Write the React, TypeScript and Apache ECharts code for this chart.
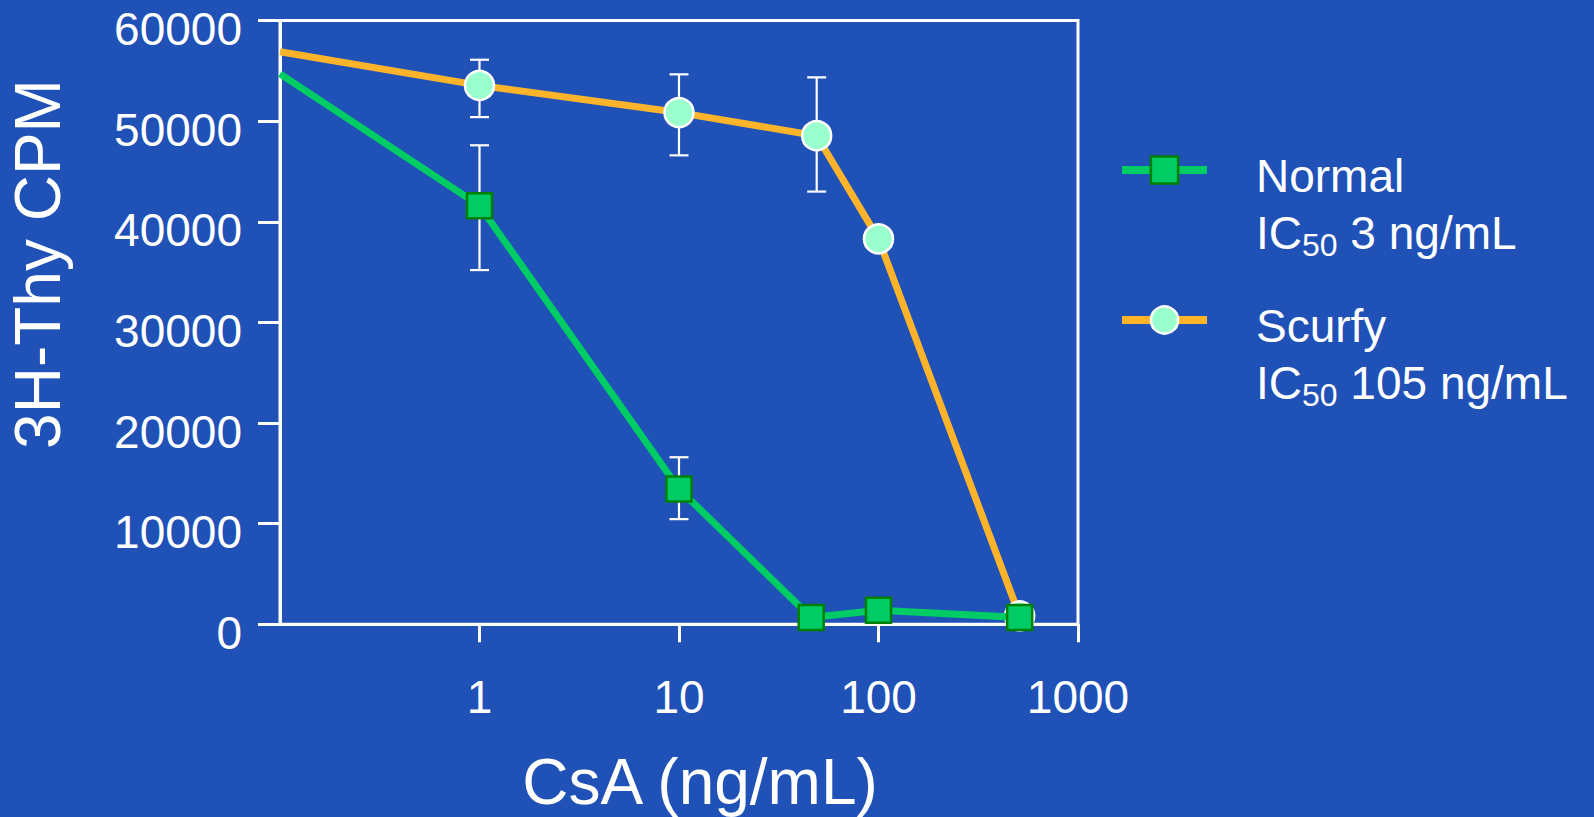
import React, { useEffect, useRef } from "react";
import * as echarts from "echarts";

// ---- data ----
const normalX = [0.1, 1, 10, 46, 100, 510];
const normalY = [54700, 41600, 13450, 680, 1390, 680];
const normalErrX = [1, 10];
const normalErrLow = [35200, 10450];
const normalErrHigh = [47600, 16600];

const scurfyX = [0.1, 1, 10, 49, 100, 510];
const scurfyY = [56900, 53550, 50850, 48550, 38300, 830];
const scurfyErrX = [1, 10, 49];
const scurfyErrLow = [50400, 46600, 43000];
const scurfyErrHigh = [56100, 54650, 54350];

const xTicks = [1, 10, 100, 1000];
const yTicks = [0, 10000, 20000, 30000, 40000, 50000, 60000];

const seriesNames = ["Normal", "Scurfy"];
const ic50Text = ["3 ng/mL", "105 ng/mL"];

const FONT = '"Liberation Sans", Arial, Helvetica, sans-serif';
const BG = "#1F51B7";
const GREEN = "#00CC66";
const GREEN_EDGE = "#008000";
const ORANGE = "#FDB42A";
const MINT = "#99FFCC";

function lineData(xs: number[], ys: number[]) {
  return xs.map((x, i) =>
    i === 0 ? { value: [x, ys[i]], symbol: "none" } : { value: [x, ys[i]] }
  );
}

function errData(xs: number[], lo: number[], hi: number[]) {
  return xs.map((x, i) => [x, lo[i], hi[i]]);
}

const errorRender = (params: any, api: any) => {
  const x = api.value(0);
  const pHi = api.coord([x, api.value(2)]);
  const pLo = api.coord([x, api.value(1)]);
  const w = 9.5;
  const style = { stroke: "#ffffff", lineWidth: 2.2 };
  return {
    type: "group",
    children: [
      { type: "line", shape: { x1: pHi[0], y1: pHi[1], x2: pLo[0], y2: pLo[1] }, style },
      { type: "line", shape: { x1: pHi[0] - w, y1: pHi[1], x2: pHi[0] + w, y2: pHi[1] }, style },
      { type: "line", shape: { x1: pLo[0] - w, y1: pLo[1], x2: pLo[0] + w, y2: pLo[1] }, style },
    ],
  };
};

const legendRich = {
  n: { fontSize: 46, lineHeight: 57, color: "#ffffff", fontFamily: FONT },
  m: { fontSize: 46, lineHeight: 57, color: "#ffffff", fontFamily: FONT },
  s: { fontSize: 32, lineHeight: 20, color: "#ffffff", fontFamily: FONT, verticalAlign: "bottom" },
};

function makeLegend(idx: number, top: number) {
  return {
    data: [seriesNames[idx]],
    left: 1118,
    top,
    orient: "vertical",
    padding: 0,
    itemWidth: 85,
    itemHeight: 34,
    selectedMode: false,
    lineStyle: { width: 8 },
    itemStyle: { borderWidth: 2.5 },
    formatter: (name: string) =>
      `{n|${name}}\n{m|IC}{s|50}{m| ${ic50Text[seriesNames.indexOf(name)]}}`,
    textStyle: {
      color: "#ffffff",
      fontSize: 46,
      fontFamily: FONT,
      padding: [68, 0, 0, 44],
      rich: legendRich,
    },
  };
}

export default function App() {
  const ref = useRef<HTMLDivElement>(null);
  useEffect(() => {
    if (!ref.current) return;
    const chart = echarts.init(ref.current, null, { renderer: "svg" });
    chart.setOption({
      animation: false,
      backgroundColor: BG,
      textStyle: { fontFamily: FONT },
      grid: {
        left: 280,
        right: 516,
        top: 20.5,
        bottom: 192.7,
        show: true,
        borderColor: "#ffffff",
        borderWidth: 3,
        backgroundColor: "transparent",
      },
      xAxis: {
        type: "log",
        logBase: 10,
        min: 0.1,
        max: 1000,
        axisLine: { show: true, lineStyle: { color: "#ffffff", width: 3 } },
        axisTick: {
          show: true,
          inside: false,
          length: 18,
          lineStyle: { color: "#ffffff", width: 3 },
        },
        splitLine: { show: false },
        axisLabel: {
          color: "#ffffff",
          fontSize: 46,
          fontFamily: FONT,
          margin: 50,
          showMinLabel: false,
          formatter: (v: number) =>
            xTicks.indexOf(Math.round(v * 1000) / 1000) >= 0 ? String(Math.round(v)) : "",
        },
      },
      yAxis: {
        type: "value",
        min: yTicks[0],
        max: yTicks[yTicks.length - 1],
        interval: 10000,
        axisLine: { show: true, lineStyle: { color: "#ffffff", width: 3 } },
        axisTick: {
          show: true,
          inside: false,
          length: 22,
          lineStyle: { color: "#ffffff", width: 3 },
        },
        splitLine: { show: false },
        axisLabel: {
          color: "#ffffff",
          fontSize: 46,
          fontFamily: FONT,
          margin: 38,
          verticalAlign: "top",
          lineHeight: 17,
          formatter: (v: number) => String(v),
        },
      },
      legend: [makeLegend(0, 152.5), makeLegend(1, 302.5)],
      graphic: [
        {
          type: "text",
          x: 38,
          y: 264,
          rotation: Math.PI / 2,
          style: {
            text: "3H-Thy CPM",
            fill: "#ffffff",
            font: `64px ${FONT}`,
            align: "center",
            verticalAlign: "middle",
          },
        },
        {
          type: "text",
          x: 700,
          y: 782,
          style: {
            text: "CsA (ng/mL)",
            fill: "#ffffff",
            font: `64px ${FONT}`,
            align: "center",
            verticalAlign: "middle",
          },
        },
      ],
      series: [
        {
          type: "custom",
          name: "Scurfy error",
          renderItem: errorRender,
          data: errData(scurfyErrX, scurfyErrLow, scurfyErrHigh),
          encode: { x: 0, y: [1, 2] },
          z: 1,
          silent: true,
        },
        {
          type: "custom",
          name: "Normal error",
          renderItem: errorRender,
          data: errData(normalErrX, normalErrLow, normalErrHigh),
          encode: { x: 0, y: [1, 2] },
          z: 1,
          silent: true,
        },
        {
          type: "line",
          name: "Scurfy",
          data: lineData(scurfyX, scurfyY),
          symbol: "circle",
          symbolSize: 29,
          showAllSymbol: true,
          lineStyle: { color: ORANGE, width: 7 },
          itemStyle: { color: MINT, borderColor: "#ffffff", borderWidth: 2.5 },
          emphasis: { disabled: true },
          z: 3,
        },
        {
          type: "line",
          name: "Normal",
          data: lineData(normalX, normalY),
          symbol: "rect",
          symbolSize: 25,
          showAllSymbol: true,
          lineStyle: { color: GREEN, width: 7 },
          itemStyle: { color: GREEN, borderColor: GREEN_EDGE, borderWidth: 2.5 },
          emphasis: { disabled: true },
          z: 4,
        },
      ],
    });
    return () => chart.dispose();
  }, []);
  return (
    <div
      ref={ref}
      style={{ position: "absolute", left: 0, top: 0, width: 1594, height: 817 }}
    />
  );
}
